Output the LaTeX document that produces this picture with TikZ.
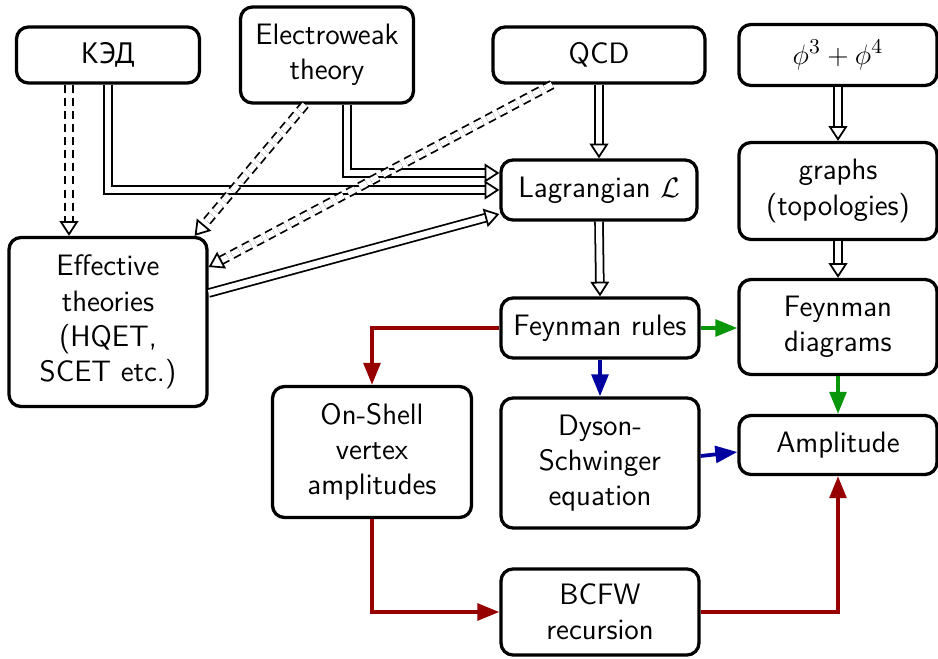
\documentclass[tikz,border=0pt]{standalone}
\usepackage{fontspec}
\newfontfamily\cyrfont{PT Sans}
\usetikzlibrary{arrows.meta,calc}

\definecolor{fdgreen}{RGB}{10,150,10}
\definecolor{fdblue}{RGB}{0,0,160}
\definecolor{fdred}{RGB}{150,0,0}

\def\pxu{0.015}
\tikzset{
  box/.style={draw, line width=1.4pt, rounded corners=0.18cm, fill=white,
    align=center, inner sep=2pt, font=\fontsize{12.6}{15}\selectfont\sffamily},
  boxsize/.style 2 args={minimum width={#1*\pxu*1cm}, minimum height={#2*\pxu*1cm}},
  dbl/.style={double, double distance=2.6pt, line width=0.75pt,
    -{Triangle[open, fill=white, length=0.22cm, width=0.28cm]}},
  dbldash/.style={dbl, dash pattern=on 3.4pt off 2.2pt},
  flow/.style={line width=1.6pt, -{Triangle[length=0.33cm, width=0.25cm]}},
}

\begin{document}
\begin{tikzpicture}[x=0.015cm, y=-0.015cm]
\useasboundingbox (0,0) rectangle (938,658);
\fill[white] (0,0) rectangle (938,658);
% top row
\node[box, boxsize={183}{56}] (ked) at (108,55) {\cyrfont КЭД};
\node[box, boxsize={173}{96}] (ew) at (327,55) {Electroweak\\theory};
\node[box, boxsize={212}{56}] (qcd) at (599,55) {QCD};
\node[box, boxsize={198}{61}] (phi) at (838,55) {$\phi^3+\phi^4$};
% middle
\node[box, boxsize={196}{60}] (lag) at (599,190) {Lagrangian $\mathcal{L}$};
\node[box, boxsize={198}{97}] (graphs) at (838,191) {graphs\\(topologies)};
\node[box, boxsize={198}{169}] (eff) at (108,322) {Effective\\theories\\(HQET,\\SCET etc.)};
\node[box, boxsize={198}{60}] (frules) at (600,328) {Feynman rules};
\node[box, boxsize={198}{95}] (fdiag) at (838,327) {Feynman\\diagrams};
% lower part
\node[box, boxsize={199}{131}] (onshell) at (372,452) {On-Shell\\vertex\\amplitudes};
\node[box, boxsize={198}{130}] (dyson) at (600,463) {Dyson-\\Schwinger\\equation};
\node[box, boxsize={198}{59}] (ampl) at (838,445) {Amplitude};
\node[box, boxsize={198}{86}] (bcfw) at (600,612) {BCFW\\recursion};

% theories to the Lagrangian
\draw[dbl] (ked.south) |- (lag.west);
\draw[dbl] ($(ew.south)+(20,0)$) |- ($(lag.west)+(0,-17)$);
\draw[dbl] ($(eff.east)+(0,-29)$) -- ($(lag.west)+(0,24)$);
\draw[dbl] (qcd.south) -- (lag.north);
\draw[dbl] (lag.south) -- (frules.north);
% effective theories
\draw[dbldash] ($(ked.south)+(-39,0)$) -- ($(eff.north)+(-39,0)$);
\draw[dbldash] ($(ew.south)+(-22,0)$) -- ($(eff.north east)+(-14,0)$);
\draw[dbldash] ($(qcd.south)+(-47,0)$) -- ($(eff.east)+(0,-55)$);
% graphs
\draw[dbl] (phi.south) -- (graphs.north);
\draw[dbl] (graphs.south) -- (fdiag.north);
% colored flows
\draw[flow, fdgreen] (frules.east) -- (frules.east -| fdiag.west);
\draw[flow, fdgreen] (fdiag.south) -- (ampl.north);
\draw[flow, fdblue] (frules.south) -- (dyson.north);
\draw[flow, fdblue] ($(dyson.east)+(0,-7)$) -- ($(ampl.west)+(0,7)$);
\draw[flow, fdred] (frules.west) -| (onshell.north);
\draw[flow, fdred] (onshell.south) |- (bcfw.west);
\draw[flow, fdred] (bcfw.east) -| (ampl.south);
\end{tikzpicture}
\end{document}
